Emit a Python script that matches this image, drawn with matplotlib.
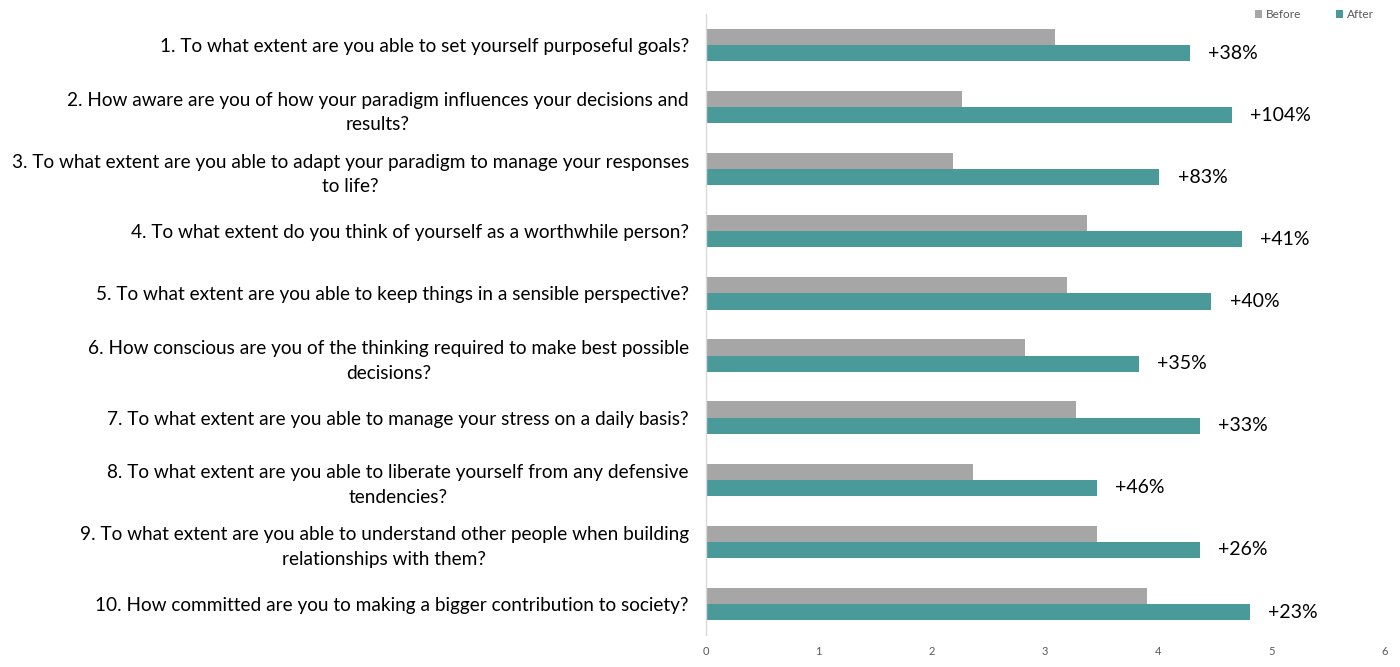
import numpy as np
import matplotlib
matplotlib.use("Agg")
import matplotlib.pyplot as plt

plt.rcParams['font.family'] = ['Lato', 'DejaVu Sans']

# Data
questions = [
    "1. To what extent are you able to set yourself purposeful goals?",
    "2. How aware are you of how your paradigm influences your decisions and\nresults?",
    "3. To what extent are you able to adapt your paradigm to manage your responses\nto life?",
    "4. To what extent do you think of yourself as a worthwhile person?",
    "5. To what extent are you able to keep things in a sensible perspective?",
    "6. How conscious are you of the thinking required to make best possible\ndecisions?",
    "7. To what extent are you able to manage your stress on a daily basis?",
    "8. To what extent are you able to liberate yourself from any defensive\ntendencies?",
    "9. To what extent are you able to understand other people when building\nrelationships with them?",
    "10. How committed are you to making a bigger contribution to society?",
]
before = [3.09, 2.27, 2.19, 3.37, 3.19, 2.82, 3.27, 2.36, 3.46, 3.90]
after = [4.28, 4.65, 4.01, 4.74, 4.47, 3.83, 4.37, 3.46, 4.37, 4.81]
change_labels = ["+38%", "+104%", "+83%", "+41%", "+40%",
                 "+35%", "+33%", "+46%", "+26%", "+23%"]

gray = '#A6A6A6'
teal = '#4A9A9A'

fig = plt.figure(figsize=(14, 6.67), dpi=100)
ax = fig.add_axes([0.504, 0.048, 0.485, 0.931])

y = np.arange(len(questions))
h = 0.26
ax.barh(y - h / 2, before, height=h, color=gray, label='Before')
ax.barh(y + h / 2, after, height=h, color=teal, label='After')

# percentage change next to each "after" bar
for yi, val, lab in zip(y, after, change_labels):
    ax.text(val + 0.16, yi + h / 2, lab, va='center', ha='left',
            fontsize=14, color='black')

ax.set_xlim(0, 6)
ax.set_ylim(len(questions) - 0.5, -0.5)
ax.set_xticks(range(7))
ax.tick_params(axis='x', length=0, labelsize=8, colors='#595959', pad=8)
ax.set_yticks(y)
ax.set_yticklabels(questions, fontsize=13.7, multialignment='center',
                   linespacing=1.55)
ax.tick_params(axis='y', length=0, pad=12)

for side in ['top', 'right', 'bottom']:
    ax.spines[side].set_visible(False)
ax.spines['left'].set_color('#D9D9D9')
ax.spines['left'].set_linewidth(1)

leg = ax.legend(loc='upper right', bbox_to_anchor=(1.0, 1.025), ncol=2,
                frameon=False, fontsize=8.5, handlelength=0.6,
                handleheight=0.6, columnspacing=3.0, handletextpad=0.3)
for t in leg.get_texts():
    t.set_color('#595959')

fig.savefig('out.png', dpi=100)
